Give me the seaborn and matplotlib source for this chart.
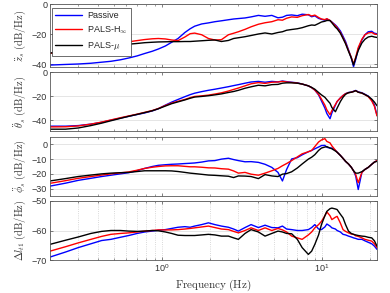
import numpy as np
import pandas as pd
import matplotlib
matplotlib.use("Agg")
import matplotlib.pyplot as plt
import matplotlib.ticker as mticker
from matplotlib.font_manager import FontProperties
import seaborn as sns

sns.set_style("ticks")
plt.rcParams["font.family"] = ["Liberation Sans", "DejaVu Sans"]
plt.rcParams["mathtext.fontset"] = "custom"
plt.rcParams["mathtext.rm"] = "Liberation Sans"
plt.rcParams["mathtext.it"] = "Liberation Sans:italic"

# frequency grid (Hz)
freq = [0.2, 0.25, 0.3, 0.36, 0.42, 0.48, 0.55, 0.62, 0.7, 0.78,
        0.87, 0.95, 1.05, 1.15, 1.26, 1.39, 1.5, 1.6, 1.77, 1.95,
        2.14, 2.35, 2.6, 2.8, 3.0, 3.3, 3.6, 4.0, 4.4, 4.85,
        5.3, 5.65, 6.0, 6.45, 7.0, 7.5, 8.2, 8.6, 9.0, 9.5,
        9.9, 10.4, 10.7, 11.2, 11.5, 12.1, 12.4, 13.0, 13.5, 14.0,
        14.6, 15.2, 15.7, 16.2, 16.8, 17.7, 18.5, 19.4, 20.4, 21.2, 22.0]

# z_s acceleration PSD
zs_passive = [-40.7, -40.3, -40.0, -39.5, -38.8, -38.2, -37.2, -36.0, -34.6, -33.0,
              -31.5, -30.0, -28.0, -25.5, -23.0, -19.0, -16.5, -14.8, -13.3, -12.6,
              -11.8, -11.2, -10.5, -10.0, -9.7, -9.3, -8.6, -7.6, -8.2, -7.6,
              -9.2, -8.8, -7.6, -7.3, -7.8, -6.8, -7.2, -8.5, -7.9, -9.6,
              -10.2, -10.8, -10.0, -11.1, -12.0, -14.0, -15.2, -18.0, -21.5, -25.0,
              -30.5, -36.0, -41.8, -37.0, -30.0, -24.0, -20.5, -18.5, -18.2, -19.5, -19.8]
zs_hinf = [-32.9, -31.5, -30.3, -29.0, -28.0, -27.0, -26.0, -25.2, -24.4, -23.7,
           -23.2, -23.0, -23.3, -24.0, -24.4, -22.0, -19.8, -19.4, -20.5, -23.0,
           -24.0, -23.8, -20.5, -19.5, -18.5, -16.9, -15.2, -13.5, -12.5, -11.8,
           -10.5, -10.8, -9.5, -8.6, -8.9, -7.8, -7.0, -8.0, -7.4, -9.0,
           -10.0, -10.4, -9.8, -11.0, -12.2, -14.5, -15.8, -19.0, -22.5, -26.0,
           -31.0, -35.5, -40.0, -35.5, -29.0, -23.5, -20.5, -19.3, -19.0, -20.0, -20.3]
zs_mu = [-32.7, -31.5, -30.5, -29.5, -28.7, -28.0, -27.3, -26.8, -26.3, -25.8,
         -25.5, -25.3, -25.2, -25.1, -25.1, -25.0, -25.0, -24.8, -24.5, -24.2,
         -24.0, -25.0, -24.3, -23.0, -22.5, -21.8, -21.0, -20.0, -19.3, -20.0,
         -19.0, -18.5, -17.5, -17.0, -16.5, -15.8, -14.5, -14.0, -14.2, -13.0,
         -12.0, -11.5, -11.0, -11.0, -12.5, -15.5, -16.5, -19.5, -23.0, -26.5,
         -31.5, -36.0, -40.7, -36.0, -31.0, -26.0, -23.5, -22.0, -21.5, -22.0, -22.3]

# theta_s acceleration PSD
th_passive = [-45.0, -45.0, -44.5, -43.3, -41.8, -40.0, -38.3, -36.8, -35.3, -34.0,
              -32.3, -30.5, -27.5, -25.0, -22.8, -20.5, -18.8, -17.6, -16.3, -15.2,
              -14.3, -13.3, -12.2, -11.3, -10.5, -9.3, -8.3, -7.8, -8.5, -7.8,
              -8.2, -7.5, -8.0, -8.5, -9.0, -10.0, -11.5, -13.0, -15.0, -19.0,
              -24.0, -30.0, -34.5, -38.8, -34.0, -27.5, -24.5, -21.5, -19.5, -18.0,
              -17.0, -16.7, -16.0, -15.3, -16.5, -17.2, -18.5, -20.0, -23.5, -27.5, -36.0]
th_hinf = [-45.6, -45.5, -44.8, -43.3, -41.6, -39.8, -38.0, -36.5, -35.0, -33.5,
           -32.0, -30.3, -27.8, -25.8, -24.3, -22.8, -21.3, -20.3, -19.8, -19.2,
           -18.3, -17.3, -15.8, -14.5, -13.3, -11.5, -9.8, -8.8, -9.5, -8.5,
           -8.3, -7.8, -8.3, -8.7, -9.2, -10.0, -11.5, -13.0, -15.0, -18.5,
           -22.5, -27.5, -31.5, -35.5, -32.0, -27.0, -24.5, -21.5, -19.5, -18.0,
           -17.2, -16.8, -16.2, -15.5, -16.8, -17.5, -18.8, -20.5, -24.0, -28.5, -36.5]
th_mu = [-47.5, -47.5, -46.5, -44.5, -42.5, -40.5, -38.5, -36.8, -35.2, -33.7,
         -32.2, -30.5, -28.3, -26.3, -24.8, -23.2, -21.8, -20.8, -20.3, -19.7,
         -19.0, -18.2, -17.0, -16.2, -15.2, -13.5, -12.3, -11.0, -11.5, -10.5,
         -10.3, -9.3, -9.0, -9.0, -9.3, -10.0, -11.5, -12.8, -14.3, -17.0,
         -19.0, -21.0, -23.0, -26.0, -29.5, -33.0, -30.0, -24.5, -21.0, -18.5,
         -17.2, -16.8, -16.3, -15.5, -16.8, -17.5, -18.8, -20.2, -22.5, -25.0, -28.0]

# phi_s acceleration PSD
ph_passive = [-28.3, -26.3, -24.4, -23.0, -21.8, -20.9, -20.0, -19.2, -17.8, -16.3,
              -15.0, -14.2, -13.8, -13.5, -13.3, -13.0, -12.8, -12.6, -12.0, -11.2,
              -11.0, -10.0, -9.4, -10.3, -11.0, -11.8, -11.7, -12.2, -13.5, -15.6,
              -19.0, -24.8, -17.0, -9.9, -9.0, -7.1, -5.0, -4.1, -3.0, -1.8,
              -0.8, -0.7, -2.0, -2.5, -2.5, -4.0, -5.3, -7.5, -9.5, -11.5,
              -13.3, -15.5, -17.9, -21.5, -30.6, -19.0, -17.0, -15.6, -13.5, -12.0, -11.0]
ph_hinf = [-26.4, -24.6, -23.0, -21.8, -20.8, -20.0, -19.3, -18.7, -17.5, -16.3,
           -15.5, -15.0, -14.6, -14.5, -14.5, -14.9, -15.2, -15.2, -15.5, -15.9,
           -16.0, -16.5, -16.8, -18.0, -19.5, -19.0, -20.2, -20.9, -19.5, -17.9,
           -16.3, -14.5, -13.0, -11.0, -8.5, -6.4, -5.0, -4.1, -1.5, 1.6,
           3.0, 3.9, 2.0, 1.0, -1.0, -4.0, -5.3, -7.5, -9.5, -11.5,
           -13.3, -15.5, -17.9, -20.5, -26.0, -19.0, -17.0, -15.6, -13.5, -12.0, -11.0]
ph_mu = [-24.8, -23.2, -21.8, -20.8, -20.0, -19.5, -19.2, -19.0, -18.4, -17.9,
         -17.9, -17.9, -17.9, -18.0, -18.4, -19.0, -19.5, -19.8, -20.3, -20.8,
         -21.0, -21.3, -21.6, -22.5, -21.4, -21.5, -21.8, -23.2, -20.5, -21.4,
         -21.8, -20.2, -19.8, -18.6, -16.0, -13.3, -10.0, -8.7, -7.0, -4.1,
         -2.5, -1.8, -1.5, -2.5, -3.0, -4.5, -5.3, -7.5, -9.5, -11.5,
         -13.3, -15.5, -17.9, -19.5, -19.5, -18.5, -17.0, -15.6, -13.5, -12.0, -11.5]

# delta l_t1 PSD
dl_passive = [-69.0, -67.3, -65.8, -64.5, -63.4, -63.0, -62.3, -61.7, -61.0, -60.5,
              -60.2, -59.9, -59.7, -59.3, -58.9, -58.7, -58.9, -58.5, -58.0, -57.4,
              -58.0, -58.5, -58.9, -59.5, -60.2, -59.0, -58.0, -59.0, -58.2, -59.0,
              -59.1, -58.5, -59.5, -59.7, -60.0, -60.0, -59.7, -59.0, -58.0, -59.5,
              -59.7, -58.8, -57.8, -58.5, -59.1, -59.5, -60.0, -60.5, -61.3, -61.5,
              -61.9, -62.2, -62.5, -62.7, -63.0, -63.0, -63.5, -64.0, -64.5, -65.3, -66.4]
dl_hinf = [-67.0, -65.5, -64.2, -63.0, -62.0, -61.3, -61.0, -60.8, -60.5, -60.2,
           -60.0, -59.8, -59.8, -59.8, -59.7, -59.5, -59.3, -59.1, -58.8, -58.5,
           -59.0, -59.5, -59.7, -60.3, -60.8, -60.0, -59.1, -60.0, -59.1, -60.0,
           -59.3, -59.8, -60.5, -61.9, -62.5, -63.0, -61.5, -60.5, -59.1, -58.0,
           -56.9, -55.0, -53.7, -55.0, -56.3, -55.5, -55.2, -57.5, -59.7, -60.3,
           -60.8, -61.2, -61.3, -61.8, -62.0, -62.5, -63.0, -63.3, -63.6, -64.5, -65.8]
dl_mu = [-64.7, -63.3, -62.2, -61.0, -60.3, -60.0, -60.0, -60.2, -60.3, -60.2,
         -60.0, -60.1, -60.5, -61.0, -61.6, -61.7, -61.7, -61.7, -61.5, -61.3,
         -61.5, -61.9, -61.9, -62.5, -63.0, -61.0, -59.7, -60.5, -61.9, -61.0,
         -60.2, -60.5, -61.0, -61.1, -63.0, -65.8, -68.1, -67.0, -64.7, -61.5,
         -58.0, -55.0, -53.5, -52.6, -52.4, -52.7, -52.9, -54.5, -55.7, -58.0,
         -60.2, -61.0, -61.3, -61.5, -61.7, -61.9, -62.0, -62.3, -62.5, -63.5, -65.3]

labels = ["Passive", r"PALS-H$_\infty$", r"PALS-$\mu$"]
palette = {labels[0]: "#0000ff", labels[1]: "#ff0000", labels[2]: "#000000"}

panels = [
    (r"$\ddot{z}_s\ \mathrm{(dB/Hz)}$", [zs_passive, zs_hinf, zs_mu], (-42, 0), [-40, -20, 0]),
    (r"$\ddot{\theta}_s\ \mathrm{(dB/Hz)}$", [th_passive, th_hinf, th_mu], (-49, 0), [-40, -20, 0]),
    (r"$\ddot{\phi}_s\ \mathrm{(dB/Hz)}$", [ph_passive, ph_hinf, ph_mu], (-35, 5), [-30, -20, -10, 0]),
    (r"$\Delta l_{t1}\ \mathrm{(dB/Hz)}$", [dl_passive, dl_hinf, dl_mu], (-70, -50), [-70, -60, -50]),
]

# axes boxes in pixels (top, bottom) on a 390x293 canvas
rows = [(4, 67), (72, 131), (137, 196), (201, 260)]
W, H = 390, 293
x0, x1 = 50, 377

fig = plt.figure(figsize=(3.9, 2.93), dpi=100)
axes = []
for (top, bot), (ylab, series, ylim, yticks) in zip(rows, panels):
    ax = fig.add_axes([x0 / W, 1 - bot / H, (x1 - x0) / W, (bot - top) / H])
    df = pd.DataFrame({
        "freq": freq * 3,
        "psd": series[0] + series[1] + series[2],
        "case": [labels[0]] * len(freq) + [labels[1]] * len(freq) + [labels[2]] * len(freq),
    })
    sns.lineplot(data=df, x="freq", y="psd", hue="case", palette=palette,
                 hue_order=labels, linewidth=1.0, ax=ax, legend=False)
    ax.set_xscale("log")
    ax.set_xlim(0.2, 22)
    ax.set_ylim(*ylim)
    ax.set_yticks(yticks)
    ax.grid(axis="y", color="0.88", linewidth=0.6)
    ax.tick_params(direction="in", top=True, right=True, length=2.5, width=0.5,
                   labelsize=6.5, labelcolor="0.2", colors="0.3", pad=2)
    ax.tick_params(which="minor", direction="in", top=True, length=1.5, width=0.4, colors="0.3")
    for s in ax.spines.values():
        s.set_color("0.35")
        s.set_linewidth(0.6)
    ax.set_xlabel("")
    ax.set_ylabel(ylab, fontsize=7.5, color="0.2", math_fontfamily="cm")
    ax.yaxis.set_label_coords(-0.067, 0.5)
    axes.append(ax)

for ax in axes[:-1]:
    ax.tick_params(labelbottom=False)

bottom = axes[-1]
bottom.xaxis.set_major_formatter(mticker.FuncFormatter(lambda v, p: r"$10^{%d}$" % round(np.log10(v))))
bottom.grid(axis="x", which="both", color="0.8", linestyle=":", linewidth=0.6)
bottom.set_xlabel(r"$\mathrm{Frequency\ (Hz)}$", fontsize=8, color="0.2", math_fontfamily="cm", labelpad=2)

handles = [plt.Line2D([], [], color=palette[l], linewidth=1.0) for l in labels]
leg = axes[0].legend(handles, labels, loc="upper left", bbox_to_anchor=(0.005, 0.94),
                     borderaxespad=0, fontsize=6.5, handlelength=3.0, labelspacing=0.35,
                     handletextpad=0.5, borderpad=0.4, fancybox=False, framealpha=1,
                     edgecolor="0.2", prop={"size": 6.5, "math_fontfamily": "cm"})
leg.get_frame().set_linewidth(0.5)

fig.savefig("out.png", dpi=100)
